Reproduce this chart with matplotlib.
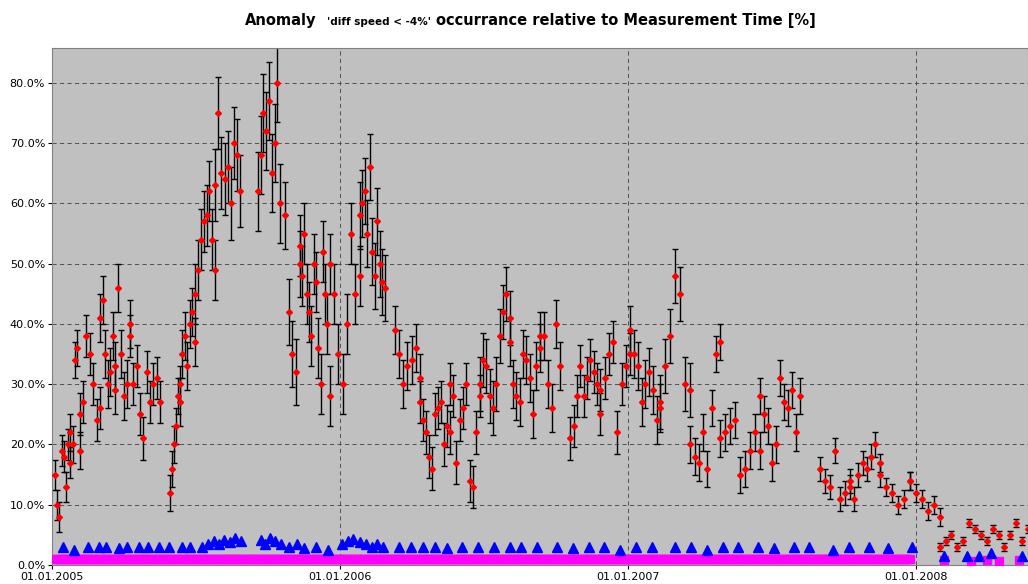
import matplotlib.pyplot as plt
import numpy as np

# red series: segments of (first day, last day, error half-width, values in %), day 0 = 01.01.2005
segments = [
    (4, 23, 2.5, [15, 10, 8, 19, 18, 13, 20, 17]),
    (23, 35, 3.0, [22, 20, 34, 36, 19]),
    (35, 61, 3.5, [25, 27, 38, 35, 30, 24, 26]),
    (61, 80, 4.0, [41, 44, 35, 30, 32, 38, 29]),
    (80, 99, 4.0, [33, 46, 35, 28, 30, 40]),
    (99, 137, 3.5, [38, 30, 33, 25, 21, 32, 27, 30, 31, 27]),
    (150, 162, 3.0, [12, 16, 20, 23, 28, 30]),
    (162, 181, 4.0, [27, 35, 38, 33, 40, 42, 37]),
    (181, 207, 5.0, [45, 49, 54, 57, 58, 62, 54, 49]),
    (207, 238, 6.0, [63, 75, 65, 64, 66, 60, 70, 68, 62]),
    (261, 289, 6.5, [62, 68, 75, 72, 77, 65, 70, 80, 60]),
    (295, 314, 5.5, [58, 42, 35, 32, 50]),
    (314, 352, 5.0, [53, 48, 55, 45, 42, 38, 50, 47, 36, 30, 52, 45, 40, 28]),
    (352, 390, 5.0, [50, 45, 35, 30, 40, 55, 45, 48]),
    (390, 422, 5.5, [58, 60, 62, 55, 66, 52, 48, 57, 50, 47, 46]),
    (435, 466, 4.0, [39, 35, 30, 33, 34, 36, 31]),
    (466, 504, 3.5, [27, 24, 22, 18, 16, 25, 26, 27, 20, 23, 30]),
    (504, 542, 3.5, [22, 28, 17, 24, 26, 30, 14, 13, 22, 28]),
    (542, 580, 4.5, [30, 34, 33, 28, 26, 30, 38, 42, 45, 41]),
    (580, 618, 4.0, [37, 30, 28, 27, 35, 34, 31, 25, 33, 38]),
    (618, 644, 4.0, [36, 38, 30, 26, 40, 33]),
    (657, 695, 3.5, [21, 23, 28, 33, 28, 31, 34, 32, 30, 25]),
    (695, 733, 3.5, [29, 31, 35, 37, 22, 30, 33, 35]),
    (733, 771, 4.0, [39, 35, 33, 27, 30, 32, 29, 24, 26]),
    (771, 809, 4.5, [27, 33, 38, 48, 45, 30, 29]),
    (809, 847, 3.0, [20, 18, 17, 22, 16, 26, 35, 37]),
    (847, 897, 3.0, [21, 22, 23, 24, 15, 16, 19, 22, 28]),
    (897, 948, 3.0, [19, 25, 23, 17, 20, 31, 27, 26, 29, 22, 28]),
    (973, 1011, 2.0, [16, 14, 13, 19, 11, 12, 14]),
    (1011, 1049, 2.0, [13, 11, 15, 17, 16, 18, 20, 15]),
    (1049, 1087, 1.5, [17, 13, 12, 10, 11, 14]),
    (1087, 1125, 1.5, [14, 12, 11, 9, 10, 8]),
    (1125, 1237, 0.7, [3, 4, 5, 3, 4, 7, 6, 5, 4, 6, 5, 3, 5, 7, 4, 6]),
]

# blue triangles (day, %)
blue_days = [14, 28, 45, 60, 68, 85, 95, 110, 122, 135, 148, 165, 175, 190, 198, 205,
             212, 218, 225, 232, 240, 265, 270, 276, 282, 290, 300, 310, 320, 335, 350,
             368, 375, 382, 390, 398, 405, 412, 420, 440, 455, 470, 485, 500, 520, 540,
             560, 580, 595, 615, 640, 660, 680, 700, 720, 740, 760, 790, 810, 830, 850,
             870, 895, 915, 940, 960, 990, 1010, 1035, 1060, 1090, 1130, 1160, 1175, 1190, 1230]
blue_vals = [3.0, 2.5, 3.0, 3.0, 3.0, 2.8, 3.0, 3.0, 3.0, 3.0, 3.0, 3.0, 3.0, 3.0, 3.5, 4.0,
             3.5, 4.2, 3.8, 4.5, 4.0, 4.2, 3.5, 4.5, 4.0, 3.5, 3.0, 3.5, 2.8, 3.0, 2.5,
             3.5, 4.0, 4.3, 3.8, 3.5, 3.0, 3.5, 3.0, 3.0, 3.0, 3.0, 3.0, 2.8, 3.0, 3.0,
             3.0, 3.0, 3.0, 3.0, 3.0, 2.8, 3.0, 3.0, 2.5, 3.0, 3.0, 3.0, 3.0, 2.5, 3.0,
             3.0, 3.0, 2.8, 3.0, 3.0, 2.5, 3.0, 3.0, 2.8, 3.0, 1.5, 1.5, 1.5, 2.0, 1.5]

# magenta squares: dense row until ~day 1090, sparse after
mag_days = list(range(4, 1090, 3)) + [1130, 1165, 1185, 1200, 1225]
mag_vals = [1.0] * len(range(4, 1090, 3)) + [0.8, 0.6, 0.9, 0.7, 0.8]

fig = plt.figure(figsize=(10.28, 5.84), dpi=100)
ax = fig.add_axes([0.0506, 0.0325, 0.9494, 0.8855])
ax.set_facecolor('#C0C0C0')

for d0, d1, err, vals in segments:
    days = np.linspace(d0, d1, len(vals))
    ax.errorbar(days, vals, yerr=err, fmt='none', ecolor='black', elinewidth=1.0,
                capsize=2.5, capthick=1.0, zorder=2)
    ax.plot(days, vals, 'D', color='red', markersize=3, zorder=3)

ax.plot(mag_days, mag_vals, 's', color='#FF00FF', markersize=6, zorder=3)
ax.plot(blue_days, blue_vals, '^', color='blue', markersize=7, zorder=4)

ax.set_xlim(0, 1237)
ax.set_ylim(0, 85.8)
ax.set_xticks([0, 365, 730, 1095])
ax.set_xticklabels(['01.01.2005', '01.01.2006', '01.01.2007', '01.01.2008'], fontsize=8)
ax.set_yticks(np.arange(0, 81, 10))
ax.set_yticklabels([f'{v:.1f}%' for v in np.arange(0, 81, 10)], fontsize=8)
ax.grid(True, color='#404040', linestyle=(0, (5, 4)), linewidth=0.6)
ax.set_axisbelow(True)
ax.tick_params(length=3, pad=2)
for s in ax.spines.values():
    s.set_color('#808080')

fig.text(0.238, 0.958, "Anomaly", fontsize=10.5, fontweight='bold', ha='left')
fig.text(0.318, 0.958, "'diff speed < -4%'", fontsize=7.5, fontweight='bold', ha='left')
fig.text(0.424, 0.958, "occurrance relative to Measurement Time [%]", fontsize=10.5,
         fontweight='bold', ha='left')

fig.savefig('out.png', dpi=100)
